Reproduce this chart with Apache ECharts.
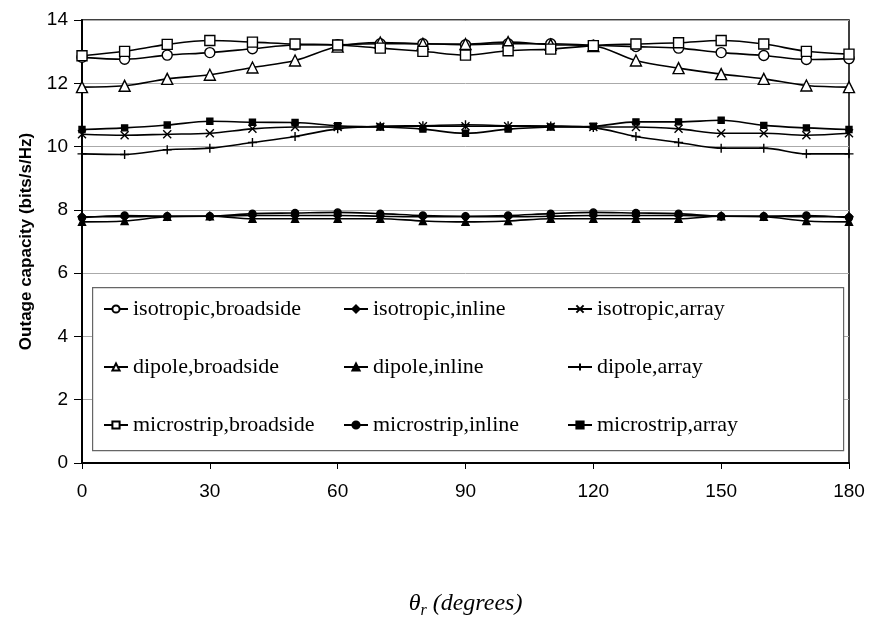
<!DOCTYPE html>
<html><head><meta charset="utf-8">
<script src="https://cdn.jsdelivr.net/npm/echarts@6/dist/echarts.min.js"></script>
<style>html,body{margin:0;padding:0;background:#fff;}#c{width:876px;height:625px;}</style>
</head><body><div id="c"></div>
<script>
const angles = [0,10,20,30,40,50,60,70,80,90,100,110,120,130,140,150,160,170,180];
const yTicks = [0,2,4,6,8,10,12,14];
const xTicks = [0,30,60,90,120,150,180];
const seriesNames = ['isotropic,broadside','isotropic,inline','isotropic,array','dipole,broadside','dipole,inline','dipole,array','microstrip,broadside','microstrip,inline','microstrip,array'];
const isoBroad = [12.82,12.76,12.89,12.97,13.09,13.21,13.22,13.25,13.25,13.22,13.25,13.25,13.2,13.16,13.11,12.97,12.88,12.75,12.78];
const dipBroad = [11.88,11.92,12.14,12.27,12.5,12.72,13.16,13.29,13.25,13.24,13.3,13.22,13.18,12.72,12.48,12.29,12.14,11.93,11.88];
const micBroad = [12.87,13.01,13.23,13.35,13.3,13.24,13.21,13.11,13.01,12.89,13.03,13.08,13.19,13.24,13.28,13.35,13.24,13.01,12.92];
const isoArray = [10.39,10.36,10.39,10.42,10.56,10.62,10.62,10.63,10.64,10.64,10.64,10.63,10.62,10.62,10.56,10.42,10.42,10.36,10.42];
const dipArray = [9.77,9.75,9.9,9.95,10.13,10.32,10.56,10.64,10.66,10.69,10.66,10.65,10.6,10.32,10.13,9.95,9.95,9.77,9.77];
const micArray = [10.54,10.59,10.68,10.8,10.77,10.76,10.66,10.62,10.55,10.42,10.55,10.62,10.64,10.78,10.78,10.83,10.67,10.59,10.54];
const isoInline = [7.78,7.78,7.8,7.8,7.82,7.82,7.82,7.8,7.78,7.78,7.78,7.8,7.82,7.82,7.82,7.8,7.8,7.78,7.78];
const dipInline = [7.62,7.65,7.78,7.8,7.72,7.72,7.72,7.72,7.65,7.62,7.65,7.72,7.72,7.72,7.72,7.8,7.78,7.65,7.62];
const micInline = [7.75,7.82,7.8,7.8,7.88,7.9,7.92,7.88,7.82,7.8,7.82,7.88,7.92,7.9,7.88,7.8,7.8,7.82,7.75];

const CROSS = 'path://M0,0L10,10M10,0L0,10';
const PLUS = 'path://M5,0L5,10M0,5L10,5';
const pair = arr => angles.map((a,i)=>[a,arr[i]]);

function mk(name, arr, symbol, size, hollow) {
  return {
    name, type:'line', data: pair(arr), smooth: 0.35, symbol, symbolSize: size,
    lineStyle:{color:'#000', width:1.6, type:'solid'},
    itemStyle:{color: hollow ? '#fff' : '#000', borderColor:'#000', borderWidth:1.4},
    emphasis:{disabled:true}, animation:false
  };
}
const series = [
  mk('isotropic,broadside', isoBroad, 'circle', 10, true),
  mk('isotropic,inline', isoInline, 'diamond', 8, false),
  mk('isotropic,array', isoArray, CROSS, 8, false),
  mk('dipole,broadside', dipBroad, 'triangle', 11, true),
  mk('dipole,inline', dipInline, 'triangle', 7, false),
  mk('dipole,array', dipArray, PLUS, 9, false),
  mk('microstrip,broadside', micBroad, 'rect', 10, true),
  mk('microstrip,inline', micInline, 'circle', 7, false),
  mk('microstrip,array', micArray, 'rect', 6, false)
];

const legStyle = {fontFamily:'Liberation Serif', fontSize:22, color:'#000'};
function leg(left, names){
  return {orient:'vertical', left, top:293, itemGap:36, itemWidth:24, itemHeight:9,
    textStyle: legStyle, data: names, selectedMode:false};
}
const chart = echarts.init(document.getElementById('c'), null, {renderer:'canvas'});
chart.setOption({
  animation:false,
  backgroundColor:'#fff',
  grid:{left:82, right:27, top:20, bottom:162, show:true, borderColor:'#000', borderWidth:1.5},
  xAxis:{type:'value', min:0, max:180, interval:30,
    axisLine:{lineStyle:{color:'#000', width:2}},
    axisTick:{show:true, length:6, lineStyle:{color:'#000'}},
    axisLabel:{fontFamily:'Liberation Sans', fontSize:19, color:'#000', margin:19,
      formatter: v => xTicks.includes(v) ? String(v) : ''},
    splitLine:{show:false},
    name:'{a|θ}{s|r}{b| (degrees)}', nameLocation:'middle', nameGap:126,
    nameTextStyle:{rich:{
      a:{fontFamily:'Liberation Serif', fontStyle:'italic', fontSize:24, color:'#000'},
      s:{fontFamily:'Liberation Serif', fontStyle:'italic', fontSize:16, color:'#000', padding:[14,0,0,0]},
      b:{fontFamily:'Liberation Serif', fontStyle:'italic', fontSize:24, color:'#000'}}}
  },
  yAxis:{type:'value', min:0, max:14, interval:2,
    axisLine:{show:true, lineStyle:{color:'#000', width:2}},
    axisTick:{show:true, length:8, lineStyle:{color:'#000'}},
    axisLabel:{fontFamily:'Liberation Sans', fontSize:19, color:'#000', margin:14,
      formatter: v => yTicks.includes(v) ? String(v) : ''},
    splitLine:{show:true, lineStyle:{color:'#aaa', width:1}},
    name:'Outage capacity (bits/s/Hz)', nameLocation:'middle', nameGap:47,
    nameTextStyle:{fontFamily:'Liberation Sans', fontWeight:'bold', fontSize:17, color:'#000'}
  },
  legend:[
    leg(98, ['isotropic,broadside','dipole,broadside','microstrip,broadside']),
    leg(338, ['isotropic,inline','dipole,inline','microstrip,inline']),
    leg(562, ['isotropic,array','dipole,array','microstrip,array'])
  ],
  graphic:[{type:'rect', left:92, top:287, shape:{width:751, height:163},
    style:{fill:'#fff', stroke:'#666', lineWidth:1.2}, z:2}],
  series
});
</script></body></html>
